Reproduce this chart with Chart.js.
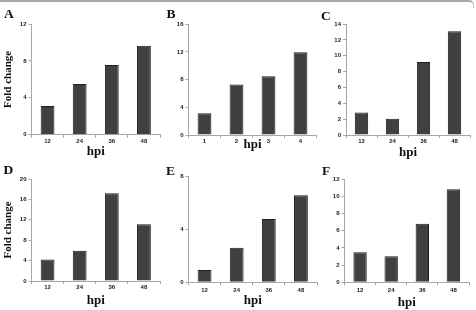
<!DOCTYPE html>
<html>
<head>
<meta charset="utf-8">
<script src="https://cdn.jsdelivr.net/npm/chart.js@4"></script>
<style>
  html, body { margin: 0; padding: 0; background: #fff; }
  #fig { position: relative; width: 476px; height: 310px; overflow: hidden; }
  #topline { position: absolute; left: 0; top: 0; width: 473px; height: 6px; border-top: 2px solid #a9a9a9; border-right: 1px solid #c8c8c8; border-top-right-radius: 5px; }
  canvas { position: absolute; }
  .tag { position: absolute; font: bold 13.5px "Liberation Serif", "DejaVu Serif", serif; line-height: 1; color: #111; }
</style>
</head>
<body>
<div id="fig">
  <div id="topline"></div>
</div>
<script>
// x categories
const hpiLabels = ['12', '24', '36', '48'];
const bLabels = ['1', '2', '3', '4'];

// fold change values
const aValues = [3.1, 5.5, 7.55, 9.65];
const bValues = [3.15, 7.3, 8.5, 11.95];
const cValues = [2.85, 2.05, 9.2, 13.1];
const dValues = [4.2, 5.95, 17.2, 11.15];
const eValues = [0.93, 2.62, 4.8, 6.6];
const fValues = [3.48, 3.02, 6.8, 10.8];

// y axis max / step per panel
const aTicks = [12, 4];
const bTicks = [16, 4];
const cTicks = [14, 2];
const dTicks = [20, 4];
const eTicks = [8, 4];
const fTicks = [12, 2];

// layout: canvas box, plot area (page coords), hpi title centre, letter baseline
const panels = [
  {tag:'A', labels:hpiLabels, values:aValues, ticks:aTicks, box:[0,0,165,160],   area:[31.5,24,160,134.7],  hpiY:152,   tagPos:[4,18.3],   fold:true,  tickPad:0},
  {tag:'B', labels:bLabels,   values:bValues, ticks:bTicks, box:[160,0,160,160], area:[188.5,24.3,316.5,135], hpiY:145, tagPos:[166.5,18.3], fold:false, tickPad:0},
  {tag:'C', labels:hpiLabels, values:cValues, ticks:cTicks, box:[320,0,156,160], area:[346,24,470,135],     hpiY:153,   tagPos:[321,20],   fold:false, tickPad:0},
  {tag:'D', labels:hpiLabels, values:dValues, ticks:dTicks, box:[0,160,165,150], area:[31.5,179,160,281],   hpiY:300.7, tagPos:[3.5,174],  fold:true,  tickPad:0},
  {tag:'E', labels:hpiLabels, values:eValues, ticks:eTicks, box:[160,160,160,150], area:[188.5,176.7,317,282.3], hpiY:300.7, tagPos:[166,175], fold:false, tickPad:1},
  {tag:'F', labels:hpiLabels, values:fValues, ticks:fTicks, box:[320,160,156,150], area:[344.5,179,469,282.3], hpiY:302.7, tagPos:[322,175], fold:false, tickPad:1}
];

const fig = document.getElementById('fig');
const axisGray = '#a8a8a8';
const tickFont = {family: '"Liberation Sans", Arial, sans-serif', size: 6, weight: 'bold'};
const hpiFont = {family: '"Liberation Serif", "DejaVu Serif", serif', size: 13, weight: 'bold'};
const foldFont = {family: '"Liberation Serif", "DejaVu Serif", serif', size: 11, weight: 'bold'};

panels.forEach(p => {
  const [bx, by, bw, bh] = p.box;
  const [al, at, ar, ab] = p.area;
  const cv = document.createElement('canvas');
  cv.width = bw; cv.height = bh;
  cv.style.left = bx + 'px'; cv.style.top = by + 'px';
  cv.style.width = bw + 'px'; cv.style.height = bh + 'px';
  fig.appendChild(cv);

  const tag = document.createElement('div');
  tag.className = 'tag';
  tag.textContent = p.tag;
  tag.style.left = p.tagPos[0] + 'px';
  tag.style.top = (p.tagPos[1] - 11.4) + 'px';
  fig.appendChild(tag);

  const yWidth = al - bx;
  const xHeight = by + bh - ab;
  const hpiPad = by + bh - hpiFont.size * 1.2 / 2 - p.hpiY;

  new Chart(cv, {
    type: 'bar',
    data: {
      labels: p.labels,
      datasets: [{
        data: p.values,
        backgroundColor: '#404040',
        borderColor: '#1e1e1e',
        borderWidth: 1,
        categoryPercentage: 1,
        barPercentage: 0.43
      }]
    },
    options: {
      responsive: false,
      animation: false,
      devicePixelRatio: 1,
      layout: {padding: {top: at - by, right: bx + bw - ar, left: 0, bottom: 0}},
      plugins: {legend: {display: false}, tooltip: {enabled: false}},
      scales: {
        x: {
          grid: {display: true, offset: true, drawOnChartArea: false, drawTicks: true, tickLength: 3, color: axisGray},
          border: {display: true, color: axisGray, width: 1},
          ticks: {font: tickFont, color: '#222', padding: p.tickPad, maxRotation: 0},
          title: {display: true, text: 'hpi', font: hpiFont, color: '#111', padding: {top: 0, bottom: hpiPad}},
          afterFit: s => { s.height = xHeight; }
        },
        y: {
          min: 0, max: p.ticks[0],
          grid: {display: true, drawOnChartArea: false, drawTicks: true, tickLength: 3, color: axisGray},
          border: {display: true, color: axisGray, width: 1},
          ticks: {stepSize: p.ticks[1], font: tickFont, color: '#222', padding: 2},
          title: {display: p.fold, text: 'Fold change', font: foldFont, color: '#111', padding: {top: 2, bottom: 0}},
          afterFit: s => { s.width = yWidth; }
        }
      }
    }
  });
});
</script>
</body>
</html>
